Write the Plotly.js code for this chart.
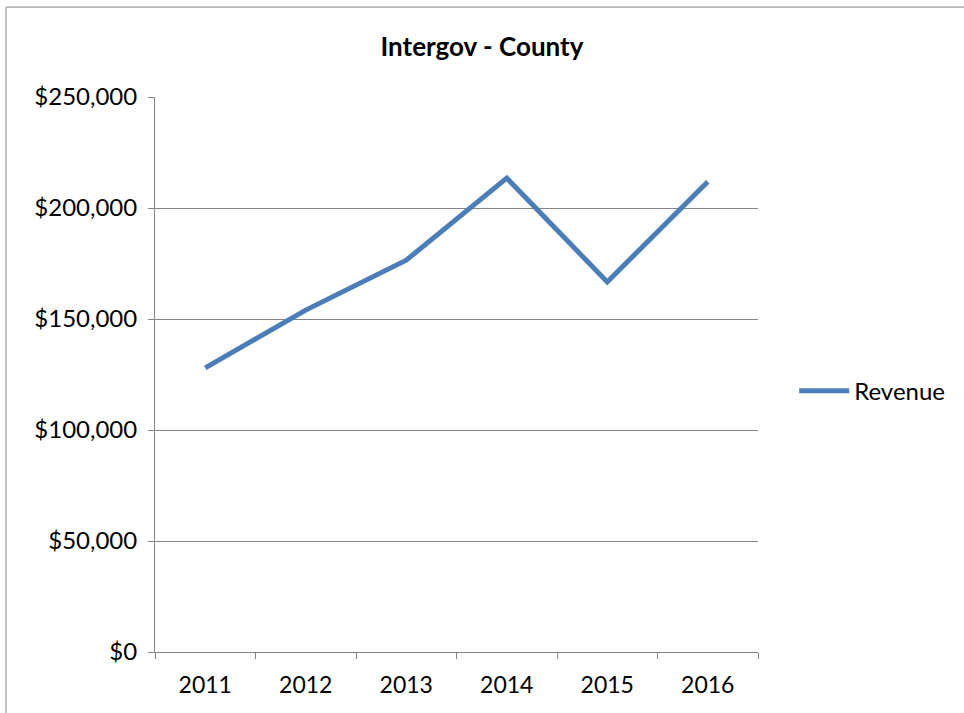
<!DOCTYPE html>
<html><head><meta charset="utf-8">
<script src="https://cdn.plot.ly/plotly-3.0.1.min.js"></script>
<style>html,body{margin:0;padding:0;background:#fff;}#chart{width:964px;height:713px;}</style>
</head><body><div id="chart"></div>
<script>
const years = ["2011","2012","2013","2014","2015","2016"];
const revenue = [128000, 154000, 176500, 213500, 166700, 211800];
const yTickVals = [0, 50000, 100000, 150000, 200000, 250000];
const yTickText = ["$0","$50,000","$100,000","$150,000","$200,000","$250,000"];
const seriesName = "Revenue";
const chartTitle = "Intergov - County";

const font = "Lato, 'Open Sans', sans-serif";
Plotly.newPlot("chart", [{
  x: years, y: revenue, name: seriesName, type: "scatter", mode: "lines",
  line: {color: "#4a7ebb", width: 5}
}], {
  width: 964, height: 713,
  margin: {l: 155, r: 206, t: 97, b: 61},
  paper_bgcolor: "#fff", plot_bgcolor: "#fff",
  font: {family: font, size: 23, color: "#000"},
  title: {text: "<b>" + chartTitle + "</b>", x: 0.5, xanchor: "center", y: 0.934, yanchor: "middle", font: {size: 26, family: font}},
  showlegend: true,
  legend: {x: 1.06, xanchor: "left", y: 0.47, yanchor: "middle", font: {size: 24}, itemwidth: 50, bgcolor: "rgba(0,0,0,0)"},
  xaxis: {type: "category", range: [-0.5, 5.5], tickson: "boundaries", ticks: "outside", ticklen: 6, tickcolor: "#868686",
    showline: true, linecolor: "#868686", linewidth: 1, showgrid: false, zeroline: false,
    tickfont: {size: 23}, ticklabelstandoff: 12, fixedrange: true},
  yaxis: {range: [0, 250000], tickvals: yTickVals, ticktext: yTickText, ticks: "outside", ticklen: 6,
    tickcolor: "#868686", showline: true, linecolor: "#868686", showgrid: true, gridcolor: "#868686",
    gridwidth: 1, zeroline: false, tickfont: {size: 24}, ticklabelstandoff: 6, fixedrange: true},
  shapes: [{type: "rect", xref: "paper", yref: "paper", x0: -0.247, x1: 1.35, y0: -0.15, y1: 1.162,
    line: {color: "#868686", width: 1}, fillcolor: "rgba(0,0,0,0)"}]
}, {displayModeBar: false, staticPlot: true});
</script></body></html>
